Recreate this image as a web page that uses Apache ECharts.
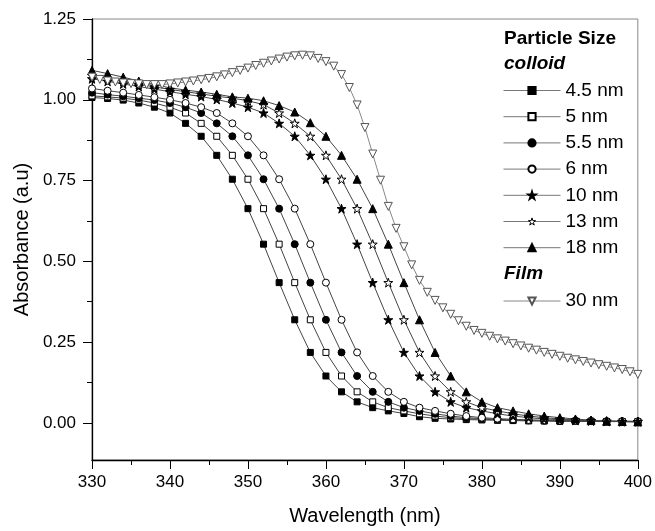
<!DOCTYPE html>
<html lang="en">
<head>
    <meta charset="UTF-8">
    <title>Absorbance vs Wavelength</title>
    <script src="https://cdn.jsdelivr.net/npm/echarts@6/dist/echarts.min.js"></script>
    <style>
        html, body { margin: 0; padding: 0; background: #fff; }
        #chart { width: 655px; height: 531px; }
    </style>
</head>
<body>
<div id="chart"></div>
<script type="text/javascript">
    // wavelength steps (nm)
    var wl2 = [330, 332, 334, 336, 338, 340, 342, 344, 346, 348, 350, 352, 354, 356, 358, 360, 362, 364,
        366, 368, 370, 372, 374, 376, 378, 380, 382, 384, 386, 388, 390, 392, 394, 396, 398, 400];
    var wl1 = [330, 331, 332, 333, 334, 335, 336, 337, 338, 339, 340, 341, 342, 343, 344, 345, 346, 347, 348, 349,
        350, 351, 352, 353, 354, 355, 356, 357, 358, 359, 360, 361, 362, 363, 364, 365, 366, 367, 368, 369,
        370, 371, 372, 373, 374, 375, 376, 377, 378, 379, 380, 381, 382, 383, 384, 385, 386, 387, 388, 389,
        390, 391, 392, 393, 394, 395, 396, 397, 398, 399, 400];

    // colloid absorbance (a.u), one value per wl2 point
    var abs45 = [1.007, 1.004, 0.999, 0.990, 0.977, 0.959, 0.927, 0.887, 0.828, 0.754, 0.663, 0.553, 0.434, 0.319,
        0.218, 0.145, 0.096, 0.065, 0.047, 0.037, 0.029, 0.019, 0.014, 0.012, 0.010, 0.009, 0.008, 0.007, 0.006,
        0.006, 0.005, 0.005, 0.004, 0.004, 0.004, 0.003];
    var abs5 = [1.012, 1.009, 1.005, 0.999, 0.990, 0.977, 0.959, 0.927, 0.887, 0.828, 0.754, 0.663, 0.553, 0.434,
        0.319, 0.218, 0.145, 0.096, 0.065, 0.047, 0.037, 0.028, 0.021, 0.016, 0.013, 0.011, 0.009, 0.008, 0.007,
        0.006, 0.006, 0.005, 0.005, 0.004, 0.004, 0.004];
    var abs55 = [1.022, 1.016, 1.011, 1.005, 0.999, 0.990, 0.977, 0.959, 0.927, 0.887, 0.828, 0.754, 0.663, 0.553,
        0.434, 0.319, 0.218, 0.145, 0.096, 0.065, 0.047, 0.037, 0.028, 0.021, 0.016, 0.013, 0.011, 0.009, 0.008,
        0.007, 0.006, 0.006, 0.005, 0.005, 0.005, 0.004];
    var abs6 = [1.035, 1.028, 1.022, 1.015, 1.008, 1.000, 0.990, 0.977, 0.959, 0.927, 0.887, 0.828, 0.754, 0.663,
        0.553, 0.434, 0.319, 0.218, 0.145, 0.096, 0.065, 0.047, 0.037, 0.028, 0.021, 0.016, 0.013, 0.011, 0.009,
        0.008, 0.007, 0.006, 0.006, 0.005, 0.005, 0.005];
    var abs10 = [1.065, 1.057, 1.049, 1.041, 1.033, 1.025, 1.017, 1.010, 1.001, 0.990, 0.977, 0.959, 0.927, 0.887,
        0.828, 0.754, 0.663, 0.553, 0.434, 0.319, 0.218, 0.145, 0.096, 0.065, 0.047, 0.037, 0.028, 0.021, 0.016,
        0.012, 0.010, 0.008, 0.006, 0.005, 0.004, 0.004];
    var abs13 = [1.075, 1.066, 1.057, 1.048, 1.040, 1.032, 1.025, 1.018, 1.011, 1.005, 0.997, 0.985, 0.959, 0.927,
        0.887, 0.828, 0.754, 0.663, 0.553, 0.434, 0.319, 0.218, 0.145, 0.096, 0.065, 0.047, 0.037, 0.028, 0.021,
        0.016, 0.012, 0.009, 0.007, 0.005, 0.004, 0.004];
    var abs18 = [1.091, 1.081, 1.070, 1.058, 1.047, 1.037, 1.030, 1.024, 1.017, 1.009, 1.005, 0.997, 0.982, 0.962,
        0.929, 0.887, 0.828, 0.754, 0.663, 0.553, 0.434, 0.319, 0.218, 0.145, 0.096, 0.065, 0.047, 0.037, 0.028,
        0.021, 0.016, 0.012, 0.008, 0.005, 0.004, 0.003];
    // film, one value per wl1 point
    var abs30 = [1.070, 1.063, 1.058, 1.055, 1.052, 1.050, 1.049, 1.047, 1.047, 1.047, 1.049, 1.052, 1.055, 1.058,
        1.062, 1.066, 1.071, 1.077, 1.084, 1.091, 1.098, 1.106, 1.113, 1.120, 1.126, 1.132, 1.136, 1.138, 1.136,
        1.128, 1.118, 1.104, 1.078, 1.038, 0.984, 0.914, 0.832, 0.751, 0.670, 0.602, 0.545, 0.489, 0.441, 0.404,
        0.379, 0.356, 0.336, 0.316, 0.299, 0.286, 0.277, 0.268, 0.260, 0.253, 0.245, 0.238, 0.231, 0.225, 0.218,
        0.212, 0.206, 0.200, 0.195, 0.190, 0.185, 0.180, 0.175, 0.170, 0.165, 0.158, 0.150];

    var yMajor = [0, 0.25, 0.5, 0.75, 1.0, 1.25];
    var yMinor = [0.125, 0.375, 0.625, 0.875, 1.125];

    var FONT = "'Liberation Sans', Arial, sans-serif";
    var STAR = 'path://M0,-10 L2.245,-3.09 L9.51,-3.09 L3.633,1.18 L5.88,8.09 L0,3.82 L-5.88,8.09 L-3.633,1.18 L-9.51,-3.09 L-2.245,-3.09 Z';

    function pairs(xs, ys) {
        return xs.map(function (x, i) { return [x, ys[i]]; });
    }

    function colloid(name, ys, symbol, size, filled) {
        return {
            name: name,
            type: 'line',
            data: pairs(wl2, ys),
            symbol: symbol,
            symbolSize: size,
            showSymbol: true,
            lineStyle: {color: '#444', width: 1},
            itemStyle: {color: filled ? '#000' : '#fff', borderColor: '#000', borderWidth: 1},
            emphasis: {disabled: true}
        };
    }

    var myChart = echarts.init(document.getElementById('chart'));
    var option = {
        animation: false,
        textStyle: {fontFamily: FONT},
        grid: {left: 92, right: 15, top: 19, bottom: 59, show: true, borderColor: '#888', borderWidth: 1},
        xAxis: {
            type: 'value',
            min: 330, max: 400, interval: 10,
            name: 'Wavelength (nm)',
            nameLocation: 'middle',
            nameGap: 46,
            nameTextStyle: {fontSize: 20, color: '#000', fontFamily: FONT},
            axisLine: {show: true, onZero: false, lineStyle: {color: '#000', width: 1.3}},
            axisTick: {show: true, inside: false, length: 9, lineStyle: {color: '#000'}},
            minorTick: {show: true, splitNumber: 2, length: 5, lineStyle: {color: '#000'}},
            axisLabel: {fontSize: 17, color: '#000', margin: 14, fontFamily: FONT},
            splitLine: {show: false}
        },
        yAxis: [{
            type: 'value',
            min: -0.115, max: 1.25,
            name: 'Absorbance (a.u)',
            nameLocation: 'middle',
            nameGap: 53,
            nameTextStyle: {fontSize: 20, color: '#000', fontFamily: FONT},
            axisLine: {show: true, onZero: false, lineStyle: {color: '#000', width: 1.3}},
            axisTick: {show: true, inside: false, length: 9, customValues: yMajor, lineStyle: {color: '#000'}},
            axisLabel: {fontSize: 17, color: '#000', margin: 16, customValues: yMajor, fontFamily: FONT,
                formatter: function (v) { return v.toFixed(2); }},
            splitLine: {show: false}
        }, {
            type: 'value',
            position: 'left',
            min: -0.115, max: 1.25,
            axisLine: {show: false},
            axisTick: {show: true, inside: false, length: 5, customValues: yMinor, lineStyle: {color: '#000'}},
            axisLabel: {show: false},
            splitLine: {show: false}
        }],
        legend: [{
            orient: 'vertical',
            left: 503, top: 81,
            padding: 0,
            itemWidth: 57, itemHeight: 9, itemGap: 7.2,
            lineStyle: {color: '#777', width: 1},
            textStyle: {fontSize: 19, color: '#000', fontFamily: FONT},
            data: ['4.5 nm', '5 nm', '5.5 nm', '6 nm', '10 nm',
                {name: '13 nm', itemStyle: {color: '#fff', borderColor: '#000', borderWidth: 1}},
                '18 nm']
        }, {
            orient: 'vertical',
            left: 503, top: 291.5,
            padding: 0,
            itemWidth: 57, itemHeight: 9,
            lineStyle: {color: '#888', width: 1},
            textStyle: {fontSize: 19, color: '#000', fontFamily: FONT},
            data: ['30 nm']
        }],
        graphic: [
            {type: 'text', left: 504, top: 29,
                style: {text: 'Particle Size', font: 'bold 19px ' + FONT, fill: '#000'}},
            {type: 'text', left: 504, top: 54,
                style: {text: 'colloid', font: 'italic bold 19px ' + FONT, fill: '#000'}},
            {type: 'text', left: 504, top: 264,
                style: {text: 'Film', font: 'italic bold 19px ' + FONT, fill: '#000'}}
        ],
        series: [
            colloid('4.5 nm', abs45, 'rect', 6, true),
            colloid('5 nm', abs5, 'rect', 6, false),
            colloid('5.5 nm', abs55, 'circle', 7, true),
            colloid('6 nm', abs6, 'circle', 7, false),
            colloid('10 nm', abs10, STAR, 9, true),
            colloid('13 nm', abs13, STAR, 9, false),
            colloid('18 nm', abs18, 'triangle', 8, true),
            {
                name: '30 nm',
                type: 'line',
                data: pairs(wl1, abs30),
                symbol: 'triangle',
                symbolRotate: 180,
                symbolSize: 8,
                lineStyle: {color: '#888', width: 1},
                itemStyle: {color: '#fff', borderColor: '#555', borderWidth: 1},
                emphasis: {disabled: true}
            }
        ]
    };
    myChart.setOption(option);
</script>
</body>
</html>
